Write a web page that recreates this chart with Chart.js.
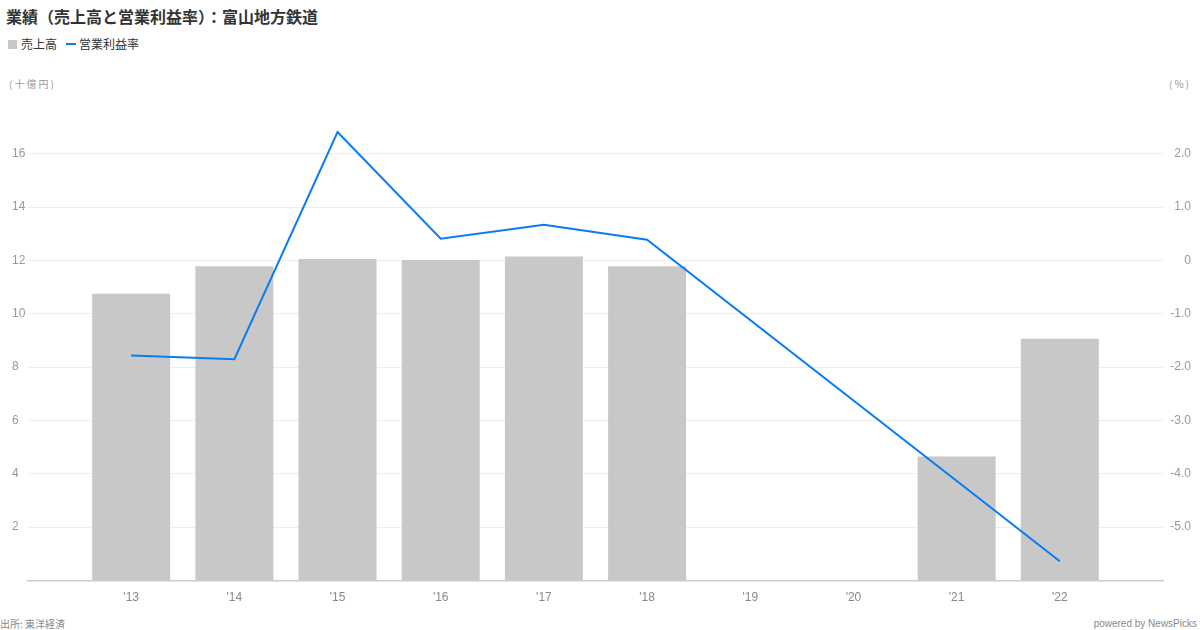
<!DOCTYPE html>
<html>
<head>
<meta charset="utf-8">
<script src="https://cdn.jsdelivr.net/npm/chart.js@4.4.1/dist/chart.umd.min.js"></script>
<style>
  html, body { margin: 0; padding: 0; background: #fff; }
  body { width: 1200px; height: 630px; position: relative; overflow: hidden;
         font-family: "Liberation Sans", "Noto Sans CJK JP", sans-serif; }
  #chart { position: absolute; left: 0; top: 0; }
  .abs { position: absolute; white-space: nowrap; }
  .title { left: 6px; top: 5px; font: bold 16px "Noto Sans CJK JP", sans-serif; color: #333; line-height: 22px; }
  .legend { top: 36px; left: 8px; font: 12px "Noto Sans CJK JP", sans-serif; color: #333; line-height: 16px; display: flex; align-items: center; }
  .legend .box { width: 9px; height: 9px; background: #c8c8c8; margin-right: 4px; }
  .legend .ln { width: 10px; height: 2px; background: #0a7cf0; margin: 0 3px 0 9px; }
  .unit { top: 76px; font: 10px "Noto Sans CJK JP", sans-serif; color: #999; line-height: 16px; letter-spacing: 2px; }
  .foot { top: 617px; font: 10px "Noto Sans CJK JP", "Liberation Sans", sans-serif; color: #888; line-height: 14px; }
</style>
</head>
<body>
<div class="abs title">業績（売上高と営業利益率）：富山地方鉄道</div>
<div class="abs legend"><span class="box"></span>売上高<span class="ln"></span>営業利益率</div>
<div class="abs unit" style="left:9px">(十億円)</div>
<div class="abs unit" style="right:9px">(%)</div>
<div class="abs foot" style="left:0">出所: 東洋経済</div>
<div class="abs foot" style="right:3px; font-family:'Liberation Sans', sans-serif">powered by NewsPicks</div>
<canvas id="chart" width="1200" height="630"></canvas>
<script>
// Categories (empty padding slots at both ends)
const years = ['', "'13", "'14", "'15", "'16", "'17", "'18", "'19", "'20", "'21", "'22", ''];
// 売上高 (十億円)
const sales = [null, 10.75, 11.78, 12.06, 12.02, 12.15, 11.78, null, null, 4.65, 9.07, null];
// 営業利益率 (%)
const margin = [null, -1.78, -1.85, 2.41, 0.41, 0.67, 0.39, null, null, null, -5.64, null];

const tickFont = { family: '"Liberation Sans", sans-serif', size: 12 };

new Chart(document.getElementById('chart'), {
  data: {
    labels: years,
    datasets: [
      {
        type: 'line',
        label: '営業利益率',
        data: margin,
        yAxisID: 'y1',
        borderColor: '#0a7cf0',
        borderWidth: 2,
        pointRadius: 0,
        tension: 0,
        spanGaps: true,
        order: 0
      },
      {
        type: 'bar',
        label: '売上高',
        data: sales,
        yAxisID: 'y',
        backgroundColor: '#c8c8c8',
        categoryPercentage: 1,
        barPercentage: 0.756,
        order: 1
      }
    ]
  },
  options: {
    responsive: false,
    animation: false,
    layout: { padding: { top: 100.5, left: 12, right: 9, bottom: 0 } },
    plugins: { legend: { display: false }, tooltip: { enabled: false } },
    scales: {
      x: {
        offset: false,
        grid: { color: 'rgba(0,0,0,0)', drawTicks: false },
        border: { display: true, color: '#cccccc', width: 1.5 },
        ticks: { color: '#888', font: tickFont, padding: 10, autoSkip: false, maxRotation: 0 },
        afterFit: s => { s.height = 49.5; }
      },
      y: {
        position: 'left',
        min: 0, max: 18,
        grid: {
          drawTicks: false,
          color: c => (c.tick.value === 0 || c.tick.value === 18) ? 'rgba(0,0,0,0)' : '#eeeeee'
        },
        border: { display: false },
        ticks: {
          stepSize: 2, color: '#999', font: tickFont, padding: 0, crossAlign: 'far',
          callback: v => (v === 0 || v === 18) ? '' : String(v)
        },
        afterFit: s => { s.width = 16; }
      },
      y1: {
        position: 'right',
        min: -6, max: 3,
        grid: { display: false, drawTicks: false },
        border: { display: false },
        ticks: {
          stepSize: 1, color: '#999', font: tickFont, padding: 0, crossAlign: 'far',
          callback: v => (v === -6 || v === 3) ? '' : (v === 0 ? '0' : v.toFixed(1))
        },
        afterFit: s => { s.width = 28; }
      }
    }
  }
});
</script>
</body>
</html>
